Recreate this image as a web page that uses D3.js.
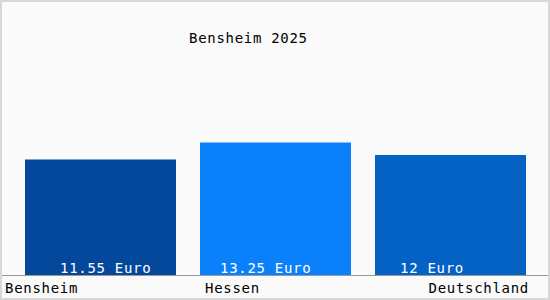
<!DOCTYPE html>
<html>
<head>
<meta charset="utf-8">
<script src="https://cdn.jsdelivr.net/npm/d3@7"></script>
<style>
  body { margin: 0; background: #fff; }
  text { font-family: "DejaVu Sans Mono", monospace; font-size: 14px; letter-spacing: 0.7px; }
</style>
</head>
<body>
<div id="chart"></div>
<script>
// data
var regions = ["Bensheim", "Hessen", "Deutschland"];
var wages = [11.55, 13.25, 12];
var valueLabels = ["11.55 Euro", "13.25 Euro", "12 Euro"];
var chartTitle = "Bensheim 2025";

var svgWidth = 550;
var svgHeight = 300;
var baseY = 275;

var barColors = ["#03489a", "#0a80fb", "#0462c4"];
// where value text starts inside each bar
var labelOffsets = [35, 20, 25];

var svg = d3.select("#chart")
  .append("svg")
  .attr("width", svgWidth)
  .attr("height", svgHeight);

// background + frame
svg.append("rect")
  .attr("x", 1)
  .attr("y", 1)
  .attr("width", svgWidth - 2)
  .attr("height", svgHeight - 2)
  .attr("fill", "#fafafa")
  .attr("stroke", "#d8d8d8")
  .attr("stroke-width", 2);

var xScale = d3.scaleBand()
  .domain(regions)
  .range([25, 526])
  .paddingInner(24 / 175)
  .paddingOuter(0);

var yScale = d3.scaleLinear()
  .domain([0, 27.5])
  .range([baseY, 0]);

var data = regions.map((r, i) => ({ region: r, value: wages[i], label: valueLabels[i], i: i }));

svg.selectAll(".bar")
  .data(data)
  .enter()
  .append("rect")
  .attr("class", "bar")
  .attr("x", d => xScale(d.region))
  .attr("y", d => yScale(d.value))
  .attr("width", xScale.bandwidth())
  .attr("height", d => yScale(0) - yScale(d.value))
  .attr("fill", d => barColors[d.i]);

// baseline
svg.append("line")
  .attr("x1", 2)
  .attr("x2", 548)
  .attr("y1", baseY + 0.5)
  .attr("y2", baseY + 0.5)
  .attr("stroke", "#999")
  .attr("stroke-width", 1);

svg.selectAll(".val")
  .data(data)
  .enter()
  .append("text")
  .attr("class", "val")
  .attr("x", d => xScale(d.region) + labelOffsets[d.i])
  .attr("y", baseY - 2)
  .attr("fill", "#fff")
  .text(d => d.label);

// category labels: first left, middle near bar, last right-aligned
svg.selectAll(".cat")
  .data(data)
  .enter()
  .append("text")
  .attr("class", "cat")
  .attr("x", d => d.i === 0 ? 5 : d.i === 1 ? xScale(d.region) + 5 : xScale(d.region) + xScale.bandwidth() + 3)
  .attr("y", 293)
  .attr("text-anchor", d => d.i === 2 ? "end" : "start")
  .attr("fill", "#000")
  .text(d => d.region);

svg.append("text")
  .attr("x", 189)
  .attr("y", 43)
  .attr("fill", "#000")
  .text(chartTitle);
</script>
</body>
</html>
